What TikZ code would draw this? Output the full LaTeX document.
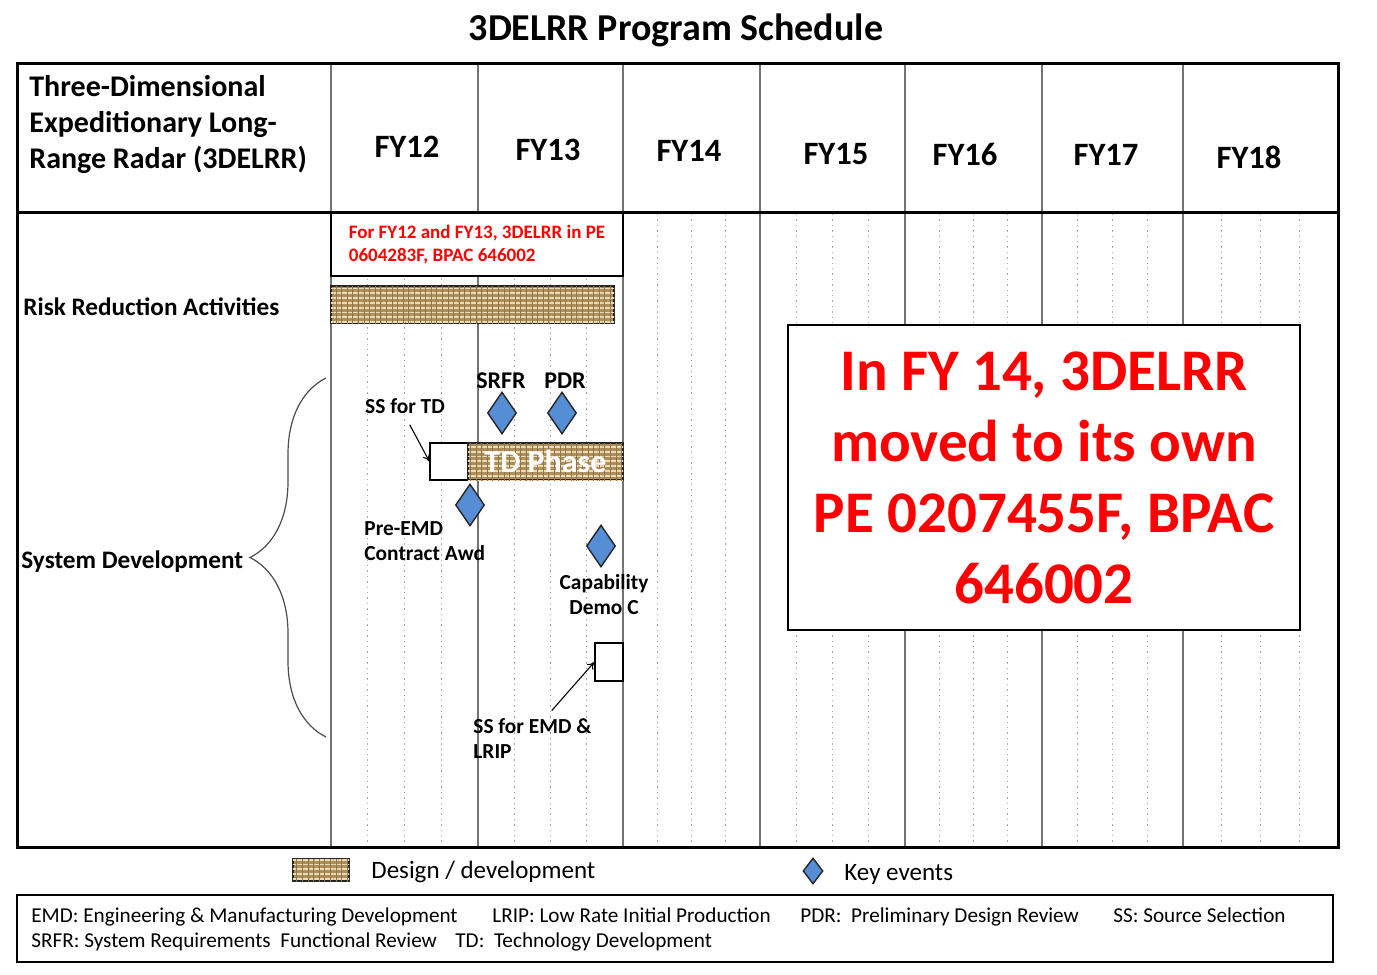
\documentclass[tikz,border=0pt]{standalone}
\usepackage{fontspec}
\setmainfont{Carlito}
\usetikzlibrary{shapes.geometric, arrows.meta, positioning, decorations.pathreplacing, patterns.meta}

\definecolor{keyblue}{RGB}{85,142,213}
\definecolor{burlap}{RGB}{176,142,88}
\definecolor{burlaplt}{RGB}{236,218,176}
\definecolor{burlapdk}{RGB}{96,72,36}
\definecolor{gridgray}{RGB}{165,165,165}

\begin{document}
\begin{tikzpicture}[
    x=0.5pt, y=-0.5pt,
    frame/.style={line width=1.5pt},
    colline/.style={draw=black!55, line width=0.8pt},
    quarter/.style={draw=gridgray, dotted, line width=0.7pt},
    burlapbar/.style={rectangle, draw=black!85, line width=0.7pt, inner sep=0pt, fill=burlap,
        postaction={pattern={Lines[angle=0, distance=2.4pt, line width=0.9pt]}, pattern color=burlaplt},
        postaction={pattern={Lines[angle=90, distance=2.8pt, line width=0.45pt]}, pattern color=burlapdk!75}},
    keyevent/.style={diamond, draw=black!85, line width=0.7pt, fill=keyblue, inner sep=0pt, minimum width=14.5pt, minimum height=21pt},
    whitebox/.style={rectangle, draw, line width=0.6pt, fill=white, inner sep=0pt},
    evlabel/.style={font=\fontsize{10.7}{12.5}\selectfont\bfseries, inner sep=1pt},
    toplabel/.style={font=\fontsize{12}{14}\selectfont\bfseries, inner sep=1pt},
    rowlabel/.style={anchor=west, font=\fontsize{12.6}{15}\selectfont\bfseries, inner sep=0pt},
    fylabel/.style={font=\fontsize{16.3}{19}\selectfont\bfseries},
    legtext/.style={anchor=west, font=\fontsize{12.5}{15}\selectfont, inner sep=0pt},
    abbrev/.style={anchor=base west, font=\fontsize{10.6}{12}\selectfont, inner sep=0pt},
    arrow/.style={-{To[length=3.5pt, width=4pt]}, line width=0.55pt}
]
\useasboundingbox (0,0) rectangle (1377,975);

% Title
\node[font=\fontsize{19}{22}\selectfont\bfseries] (title) at (676,30) {3DELRR Program Schedule};

% Quarter grid
\foreach \a/\b in {331/478, 478/623, 623/760, 760/905, 905/1042, 1042/1183, 1183/1338}
  \foreach \k in {1,2,3}
    \draw[quarter] ({\a+\k*(\b-\a)/4},214) -- ({\a+\k*(\b-\a)/4},846);

% Year columns
\foreach \x in {331, 478, 623, 760, 905, 1042, 1183}
  \draw[colline] (\x,63) -- (\x,847);

% Table frame
\draw[frame] (17,63) rectangle (1338,847);
\draw[frame] (17,212) -- (1338,212);

% Header
\node[anchor=west, align=left, font=\fontsize{15}{18}\selectfont\bfseries, inner sep=0pt] (program) at (29,125)
  {Three-Dimensional\\Expeditionary Long-\\Range Radar (3DELRR)};
\foreach \name/\x/\y in {FY12/407/147, FY13/548/150, FY14/689/151, FY15/836/154, FY16/965/154, FY17/1106/155, FY18/1249/157}
  \node[fylabel] (h\name) at (\x,\y) {\name};

% Funding note
\node[whitebox, line width=1pt, minimum width=146pt, minimum height=31.5pt,
  align=left, text=red, font=\fontsize{9.5}{11.5}\selectfont\bfseries] (fundnote) at (477,244.5)
  {For FY12 and FY13, 3DELRR in PE\\0604283F, BPAC 646002};

% Risk reduction
\node[rowlabel] (risklbl) at (23,307) {Risk Reduction Activities};
\node[burlapbar, minimum width=141.5pt, minimum height=18.5pt] (riskbar) at (472.5,304.5) {};

% System development
\node[rowlabel] (syslbl) at (21,562) {System Development};
\draw[decorate, decoration={brace, amplitude=38pt}, draw=black!70, line width=0.6pt] (326,737) -- (326,378);

\node[whitebox, minimum width=19pt, minimum height=18.5pt] (sstdbox) at (449,461.5) {};
\node[burlapbar, minimum width=77.5pt, minimum height=18.5pt, text=white,
  font=\fontsize{16}{18}\selectfont\bfseries] (tdphase) at (545.5,461.5) {TD Phase};

\node[keyevent] (srfr) at (502,413) {};
\node[keyevent] (pdr) at (562,413) {};
\node[keyevent] (preemd) at (470,505) {};
\node[keyevent] (capdemo) at (601,546) {};

\node[toplabel] (srfrlbl) at (501,381) {SRFR};
\node[toplabel] (pdrlbl) at (565,381) {PDR};
\node[evlabel] (sstdlbl) at (405,406) {SS for TD};
\node[evlabel, anchor=west, align=left] (preemdlbl) at (362,541) {Pre-EMD\\Contract Awd};
\node[evlabel, align=center] (capdemolbl) at (604,595) {Capability\\Demo C};

\node[whitebox, minimum width=14pt, minimum height=19pt] (ssemdbox) at (609,662) {};
\node[evlabel, anchor=west, align=left] (ssemdlbl) at (471,739) {SS for EMD \&\\LRIP};

\draw[arrow, shorten <=5pt] (sstdlbl.south) -- (sstdbox.west);
\draw[arrow, shorten <=4pt] ([xshift=7pt]ssemdlbl.north) -- (ssemdbox.west);

% Move note
\node[whitebox, line width=1pt, minimum width=256pt, minimum height=152.5pt, text=red, align=center,
  font=\fontsize{29.5}{35.5}\selectfont\bfseries] (movednote) at (1044,477.5)
  {In FY 14, 3DELRR\\moved to its own\\PE 0207455F, BPAC\\646002};

% Legend
\node[burlapbar, minimum width=28pt, minimum height=11pt] (legbar) at (321,870) {};
\node[legtext] (legbartxt) at (371,872) {Design / development};
\node[keyevent, minimum width=10pt, minimum height=13pt] (legkey) at (813,871) {};
\node[legtext] (legkeytxt) at (844,874) {Key events};

% Abbreviations
\draw[line width=1.2pt] (17,895) rectangle (1333,962);
\node[abbrev] (emddef) at (31,922) {EMD: Engineering \& Manufacturing Development};
\node[abbrev] (lripdef) at (492,922) {LRIP: Low Rate Initial Production};
\node[abbrev] (pdrdef) at (800,922) {PDR:\ \ Preliminary Design Review};
\node[abbrev] (ssdef) at (1113,922) {SS: Source Selection};
\node[abbrev] (srfrdef) at (31,947) {SRFR: System Requirements\ \ Functional Review};
\node[abbrev] (tddef) at (455,947) {TD:\ \ Technology Development};

\end{tikzpicture}
\end{document}
